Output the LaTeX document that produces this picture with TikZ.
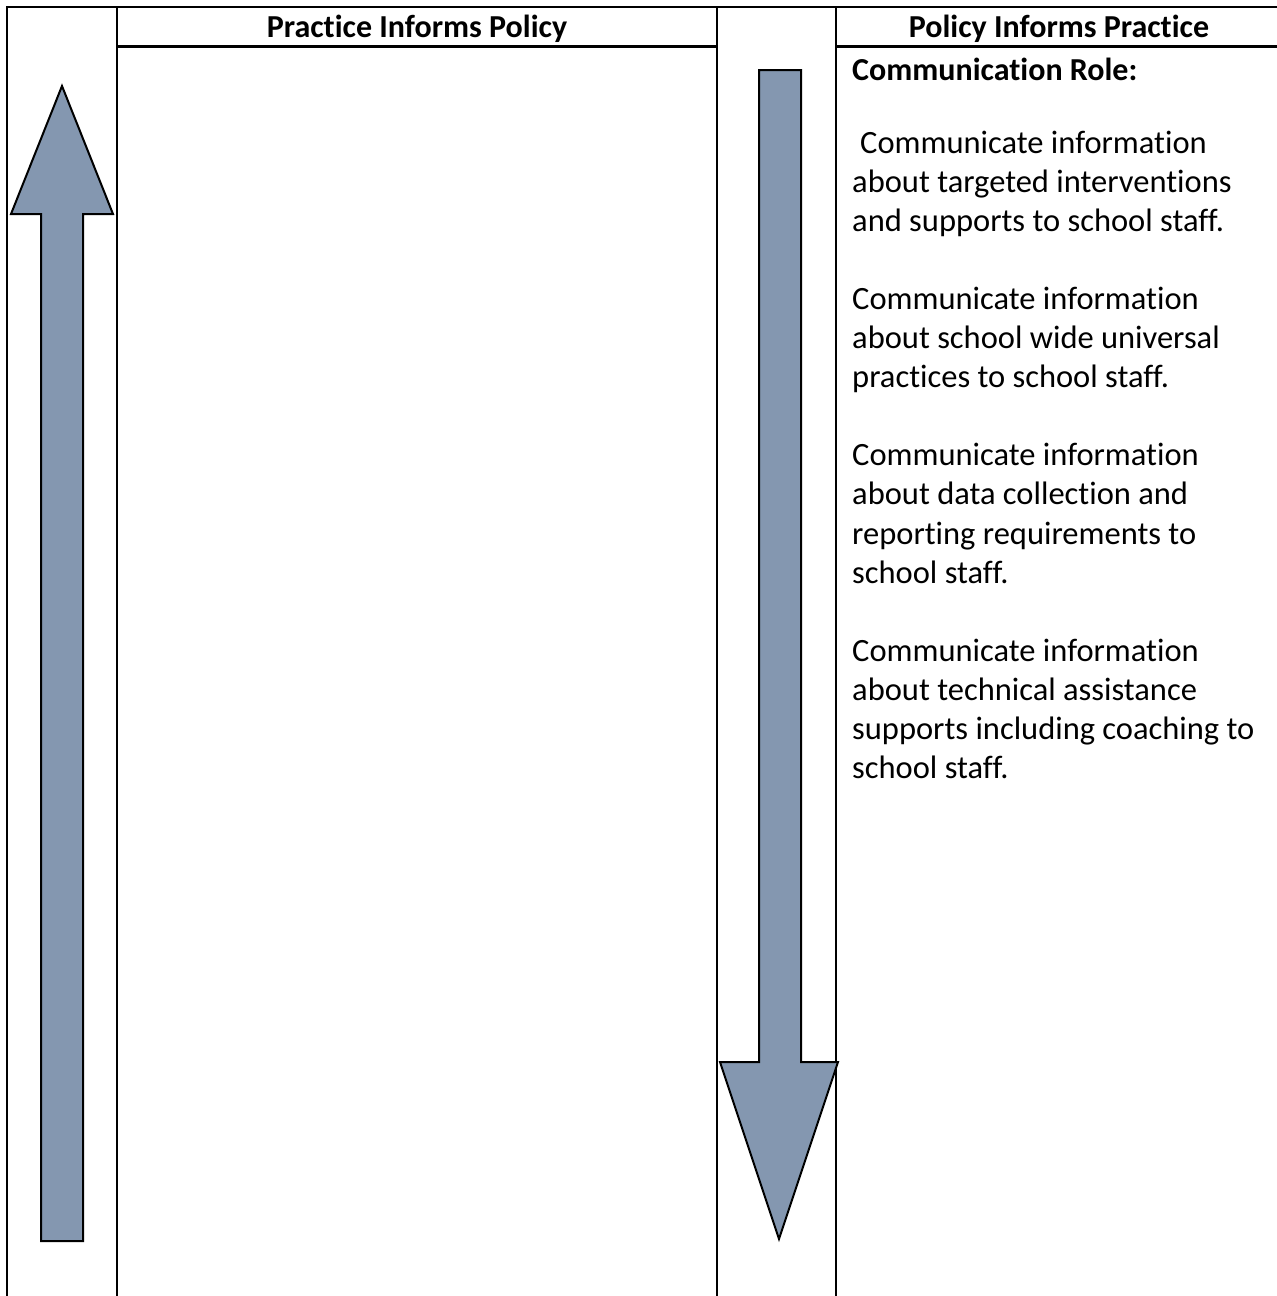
\documentclass[tikz,border=0pt]{standalone}
\usepackage{fontspec}
\setmainfont{Carlito}[Ligatures=NoCommon]
\definecolor{arrowfill}{RGB}{132,151,176}
\tikzset{
  rule/.style={line width=2.6pt, line cap=rect},
  bigarrow/.style={fill=arrowfill, draw=black, line width=2pt, line join=miter},
  head/.style={font=\bfseries\fontsize{32}{38}\selectfont, inner sep=0pt, anchor=base},
  body/.style={font=\fontsize{32.5}{38}\selectfont, inner sep=0pt, anchor=base west}
}
\begin{document}
\begin{tikzpicture}[x=1pt,y=-1pt]
\useasboundingbox (0,0) rectangle (1277,1296);
\fill[white] (0,0) rectangle (1277,1296);
% table rules
\draw[rule] (7,7) -- (1277,7);
\draw[rule] (7,7) -- (7,1300);
\draw[rule] (117,7) -- (117,1300);
\draw[rule] (717,7) -- (717,1300);
\draw[rule] (836,7) -- (836,1300);
\draw[rule] (117,46.7) -- (717,46.7);
\draw[rule] (836,46.7) -- (1280,46.7);
% arrows
\draw[bigarrow] (41,1241) -- (41,214) -- (11,214) -- (62,86) -- (113,214) -- (83,214) -- (83,1241) -- cycle;
\draw[bigarrow] (759,70) -- (801,70) -- (801,1062) -- (838,1062) -- (779,1239) -- (720,1062) -- (759,1062) -- cycle;
% headers
\node[head] (h1) at (417,37) {Practice Informs Policy};
\node[head] (h2) at (1059,37) {Policy Informs Practice};
\node[body, font=\bfseries\fontsize{32}{38}\selectfont] (role) at (852,80) {Communication Role:};
% body lines
\node[body] (a1) at (852,153) {\hspace*{8pt}Communicate information};
\node[body] (a2) at (852,192) {about targeted interventions};
\node[body] (a3) at (852,231) {and supports to school staff.};
\node[body] (b1) at (852,309) {Communicate information};
\node[body] (b2) at (852,348) {about school wide universal};
\node[body] (b3) at (852,387) {practices to school staff.};
\node[body] (c1) at (852,465) {Communicate information};
\node[body] (c2) at (852,504) {about data collection and};
\node[body] (c3) at (852,544) {reporting requirements to};
\node[body] (c4) at (852,583) {school staff.};
\node[body] (d1) at (852,661) {Communicate information};
\node[body] (d2) at (852,700) {about technical assistance};
\node[body] (d3) at (852,739) {supports including coaching to};
\node[body] (d4) at (852,778) {school staff.};
\end{tikzpicture}
\end{document}
